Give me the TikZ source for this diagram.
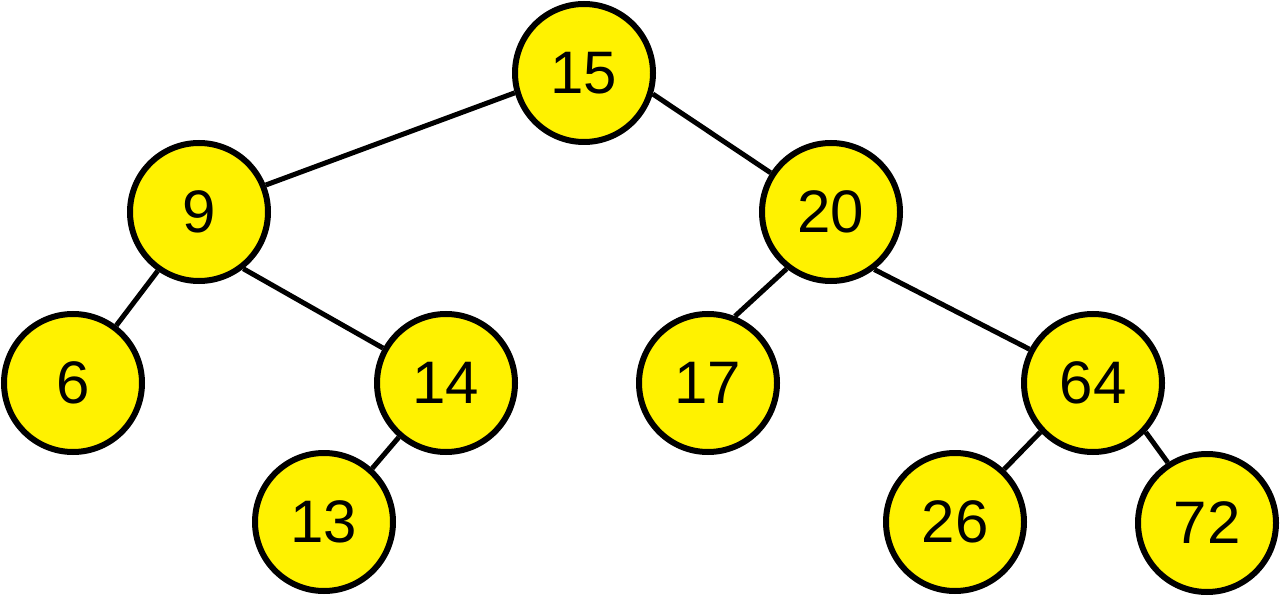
\documentclass[tikz,border=0pt]{standalone}
\usepackage{fontspec}
\setmainfont{Liberation Sans}
\begin{document}
\begin{tikzpicture}[x=1pt,y=-1pt,
  treenode/.style={circle,draw=black,line width=6pt,fill=yellow,minimum size=138pt,inner sep=0pt,font=\fontsize{60}{60}\selectfont},
  edge/.style={line width=5pt,draw=black}]
\useasboundingbox (0,0) rectangle (1280,596);
\node[treenode] (n15) at (584,73) {15};
\node[treenode] (n9) at (199,212) {9};
\node[treenode] (n20) at (831,212) {20};
\node[treenode] (n6) at (73,383) {6};
\node[treenode] (n14) at (446,383) {14};
\node[treenode] (n17) at (708,383) {17};
\node[treenode] (n64) at (1093,383) {64};
\node[treenode] (n13) at (324,522) {13};
\node[treenode] (n26) at (955,522) {26};
\node[treenode] (n72) at (1207,523) {72};
\draw[edge] (n15.196) -- (n9.22);
\draw[edge] (n15.343) -- (n20.147);
\draw[edge] (n9.235) -- (n6.53);
\draw[edge] (n9.-52) -- (n14.151);
\draw[edge] (n14.229) -- (n13.48);
\draw[edge] (n20.232) -- (n17.68);
\draw[edge] (n20.-53) -- (n64.152);
\draw[edge] (n64.223) -- (n26.47);
\draw[edge] (n64.-43) -- (n72.123);
\end{tikzpicture}
\end{document}
